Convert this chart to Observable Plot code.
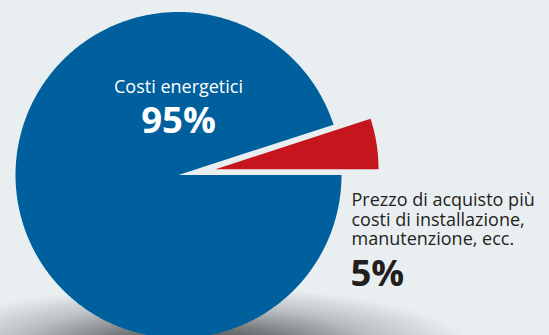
<!DOCTYPE html>
<html><head><meta charset="utf-8">
<script src="https://cdn.jsdelivr.net/npm/d3@7"></script>
<script src="https://cdn.jsdelivr.net/npm/@observablehq/plot@0.6"></script>
<style>
html,body{margin:0;padding:0;background:#e9eef1;}
#chart{width:549px;height:335px;position:relative;overflow:hidden;
background: radial-gradient(ellipse 275px 60px at 195px 346px, #434343 0%, #7a7d80 35%, #b9bfc3 66%, #e9eef1 100%), #e9eef1;}
svg{display:block;}
</style></head><body><div id="chart"></div>
<script>
const categories = ["Costi energetici", "Prezzo di acquisto più costi di installazione, manutenzione, ecc."];
const values = [95, 5];
const valueLabels = ["95%", "5%"];
const labelLines = ["Costi energetici", "Prezzo di acquisto più\ncosti di installazione,\nmanutenzione, ecc."];
const colors = ["#00609e", "#c4161c"];

// layout
const W = 549, H = 335, R = 163, CX = 178, CY = 174.5;
const total = d3.sum(values);
const order = [1, 0]; // small slice starts at 3 o'clock, going counterclockwise
let theta = 0;
const points = [];
for (const i of order) {
  const span = 2 * Math.PI * values[i] / total;
  const a0 = theta, a1 = theta + span;
  theta = a1;
  const mid = (a0 + a1) / 2;
  const e = i === 1 ? 0.23 : 0;
  const ox = e * Math.cos(mid), oy = e * Math.sin(mid);
  const n = Math.max(4, Math.ceil(span / 0.01));
  points.push({cat: categories[i], x: ox, y: oy});
  for (let k = 0; k <= n; k++) {
    const a = a0 + (a1 - a0) * k / n;
    points.push({cat: categories[i], x: ox + Math.cos(a), y: oy + Math.sin(a)});
  }
}

const font = "'Open Sans', sans-serif";
const chart = Plot.plot({
  width: W, height: H,
  marginTop: 0, marginRight: 0, marginBottom: 0, marginLeft: 0,
  x: {domain: [-CX / R, (W - CX) / R], axis: null},
  y: {domain: [-(H - CY) / R, CY / R], axis: null},
  color: {domain: categories, range: colors},
  style: {background: "transparent", overflow: "visible", fontFamily: font},
  marks: [
    Plot.line(points, {x: "x", y: "y", z: "cat", fill: "cat", stroke: "none", curve: "linear-closed"}),
    Plot.text([labelLines[0]], {x: 0, y: (CY - 92) / R, text: d => d, fill: "white", fontSize: 18, textAnchor: "middle", lineAnchor: "bottom"}),
    Plot.text([valueLabels[0]], {x: 0, y: (CY - 132) / R, text: d => d, fill: "white", fontSize: 36.5, fontWeight: "bold", textAnchor: "middle", lineAnchor: "bottom"}),
    Plot.text([labelLines[1]], {x: (351 - CX) / R, y: (CY - 192) / R, text: d => d, fill: "#231f20", fontSize: 18, lineHeight: 1.08, textAnchor: "start", lineAnchor: "top"}),
    Plot.text([valueLabels[1]], {x: (350 - CX) / R, y: (CY - 285) / R, text: d => d, fill: "#231f20", fontSize: 36.5, fontWeight: "bold", textAnchor: "start", lineAnchor: "bottom"})
  ]
});
document.getElementById("chart").appendChild(chart);
</script>
</body></html>
